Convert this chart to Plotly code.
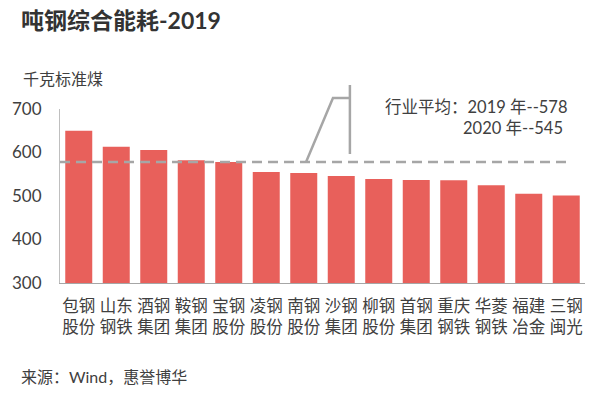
import plotly.graph_objects as go

companies = ["包钢<br>股份", "山东<br>钢铁", "酒钢<br>集团", "鞍钢<br>集团", "宝钢<br>股份", "凌钢<br>股份", "南钢<br>股份",
             "沙钢<br>集团", "柳钢<br>股份", "首钢<br>集团", "重庆<br>钢铁", "华菱<br>钢铁", "福建<br>冶金", "三钢<br>闽光"]
energy = [650, 613, 606, 582, 578, 555, 553, 546, 539, 537, 536, 525, 505, 501]
avg_2019 = 578
avg_2020 = 545
y_ticks = [300, 400, 500, 600, 700]

FONT = "Lato, 'Noto Sans CJK SC', sans-serif"
W, H = 615, 398
L, R, T, B = 58, 585, 109, 283  # in screen pixels

def px(x):
    return (x - L) / (R - L)

def py(y):
    return (B - y) / (B - T)

fig = go.Figure()
fig.add_trace(go.Bar(x=list(range(len(companies))), y=energy, marker_color="#E8605B",
                     marker_line_width=0, showlegend=False, hoverinfo="skip"))

fig.add_shape(type="line", xref="x", yref="y", x0=-0.5, x1=len(companies) - 1, y0=avg_2019, y1=avg_2019,
              line=dict(color="#A6A6A6", width=2.5, dash="10px,6px"))

# callout
gray = "#A6A6A6"
fig.add_shape(type="path", xref="paper", yref="paper",
              path=f"M {px(305)} {py(162)} L {px(332)} {py(98)} L {px(349)} {py(98)}",
              line=dict(color=gray, width=2.5))
fig.add_shape(type="line", xref="paper", yref="paper", x0=px(349), x1=px(349), y0=py(85), y1=py(154),
              line=dict(color=gray, width=2.5))

fig.add_annotation(xref="paper", yref="paper", x=px(569), y=py(107), xanchor="right", yanchor="middle",
                   text=f"行业平均：2019 年--{avg_2019}", showarrow=False,
                   font=dict(family=FONT, size=16.5, color="#404040"))
fig.add_annotation(xref="paper", yref="paper", x=px(565), y=py(128), xanchor="right", yanchor="middle",
                   text=f"2020 年--{avg_2020}", showarrow=False,
                   font=dict(family=FONT, size=16.5, color="#404040"))

fig.add_annotation(xref="paper", yref="paper", x=px(17), y=py(20), xanchor="left", yanchor="middle",
                   text="<b>吨钢综合能耗-2019</b>", showarrow=False,
                   font=dict(family=FONT, size=23, color="#333333"))
fig.add_annotation(xref="paper", yref="paper", x=px(19), y=py(78), xanchor="left", yanchor="middle",
                   text="千克标准煤", showarrow=False,
                   font=dict(family=FONT, size=16, color="#404040"))
fig.add_annotation(xref="paper", yref="paper", x=px(17), y=py(376), xanchor="left", yanchor="middle",
                   text="来源：Wind，惠誉博华", showarrow=False,
                   font=dict(family=FONT, size=16, color="#404040"))

fig.update_layout(
    width=W, height=H,
    margin=dict(l=L, r=W - R, t=T, b=H - B),
    paper_bgcolor="white", plot_bgcolor="white",
    bargap=0.28,
    font=dict(family=FONT, color="#404040"),
    xaxis=dict(tickmode="array", tickvals=list(range(len(companies))), ticktext=companies,
               range=[-0.5, len(companies) - 0.5], showgrid=False, showline=True,
               linecolor="#A6A6A6", linewidth=1, ticks="", ticklabelstandoff=8,
               tickfont=dict(size=16.5, color="#404040")),
    yaxis=dict(range=[300, 700], tickvals=y_ticks, showgrid=False, showline=True, linecolor="#BFBFBF",
               linewidth=1, ticks="", ticklabelstandoff=14, zeroline=False,
               tickfont=dict(size=17, color="#404040")),
)

fig.write_html("out.html", config={"displayModeBar": False},
               post_script="document.body.style.margin='0';document.body.style.overflow='hidden';")
